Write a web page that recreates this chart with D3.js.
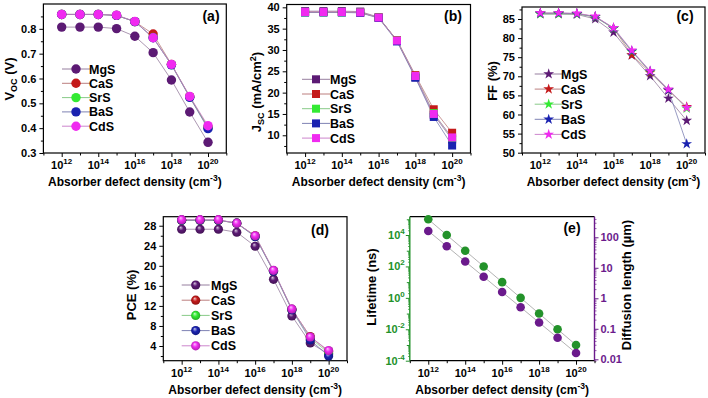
<!DOCTYPE html>
<html><head><meta charset="utf-8">
<script src="https://cdn.jsdelivr.net/npm/d3@7"></script>
<style>
body{margin:0;background:#fff}
svg{display:block;font-family:"Liberation Sans",Arial,sans-serif;font-weight:bold}
</style>
</head><body>
<svg id="chart" width="708" height="398"></svg>
<script>
// ---------------- data ----------------
const densityExponents = [12,13,14,15,16,17,18,19,20];
const materials = ["MgS","CaS","SrS","BaS","CdS"];
const materialColors = ["#5c1a74","#c41a1a","#33ea33","#1a22b0","#f02af0"];
// rows follow the materials order
const vocValues = [
  [0.807,0.807,0.807,0.801,0.770,0.704,0.594,0.465,0.343],
  [0.858,0.858,0.858,0.854,0.829,0.779,0.657,0.527,0.404],
  [0.858,0.858,0.858,0.854,0.829,0.765,0.656,0.526,0.402],
  [0.858,0.858,0.858,0.854,0.829,0.764,0.655,0.524,0.398],
  [0.858,0.858,0.858,0.855,0.830,0.764,0.657,0.528,0.410]
];
const jscValues = [
  [39.1,39.1,39.1,39.0,37.7,32.2,23.6,14.8,9.0],
  [38.9,38.9,38.9,38.8,37.6,32.3,24.1,16.1,10.6],
  [38.8,38.8,38.8,38.8,37.6,32.2,23.9,15.2,9.3],
  [38.8,38.8,38.8,38.7,37.5,32.0,23.5,14.3,7.6],
  [38.9,38.9,38.9,38.8,37.6,32.2,23.9,15.0,9.5]
];
const ffValues = [
  [86.3,86.3,86.2,85.0,81.5,75.5,70.1,64.2,58.4],
  [86.5,86.5,86.4,85.6,82.6,75.6,71.0,66.3,62.0],
  [86.3,86.3,86.3,85.5,82.5,76.5,71.2,66.5,61.6],
  [86.5,86.5,86.4,85.6,82.6,76.6,71.3,66.4,52.3],
  [86.6,86.6,86.5,85.7,82.7,76.8,71.4,66.6,61.8]
];
const pceValues = [
  [27.3,27.3,27.3,26.7,23.9,17.3,10.0,4.6,2.4],
  [29.1,29.1,29.1,28.5,26.0,19.0,11.3,5.9,2.9],
  [29.1,29.1,29.1,28.5,25.9,19.0,11.3,5.6,2.6],
  [29.1,29.1,29.1,28.5,25.8,18.9,11.2,5.2,2.0],
  [29.2,29.2,29.2,28.5,26.0,19.1,11.4,5.8,3.1]
];
const lifetimeValues = [1e5,1e4,1e3,1e2,1e1,1e0,1e-1,1e-2,1e-3];
const diffusionValues = [161,51,16,5.1,1.6,0.51,0.16,0.051,0.016];

const xLabelExponents = [12,14,16,18,20];
const vocTicks = [0.3,0.4,0.5,0.6,0.7,0.8];
const jscTicks = [10,15,20,25,30,35,40];
const ffTicks = [50,55,60,65,70,75,80,85];
const pceTicks = [4,8,12,16,20,24,28];
const lifetimeTickExponents = [-4,-2,0,2,4];
const diffusionTicks = [0.01,0.1,1,10,100];
const diffusionTickLabels = ["0.01","0.1","1","10","100"];

// ---------------- drawing ----------------
const svg = d3.select("#chart");
const defs = svg.append("defs");
materialColors.forEach((c,i)=>{
  const gr = defs.append("radialGradient").attr("id","sph"+i)
    .attr("cx","50%").attr("cy","50%").attr("r","55%").attr("fx","38%").attr("fy","30%");
  gr.append("stop").attr("offset","0%").attr("stop-color", d3.interpolateRgb(c,"#fff")(0.75));
  gr.append("stop").attr("offset","45%").attr("stop-color", c);
  gr.append("stop").attr("offset","100%").attr("stop-color", d3.color(c).darker(1));
});

function addPowerLabel(sel, base, exp, supSize){
  sel.append("tspan").text(base);
  sel.append("tspan").attr("dy",-5).attr("font-size",supSize).text(exp);
}

function xAxisFor(g, x, yBot){
  g.append("g").attr("transform",`translate(0,${yBot})`)
    .call(d3.axisBottom(x).tickValues(xLabelExponents.map(e=>10**e)).tickSize(4).tickFormat(""))
    .call(a=>a.select(".domain").remove());
  g.append("g").attr("transform",`translate(0,${yBot})`)
    .call(d3.axisBottom(x).tickValues([11,13,15,17,19,21].map(e=>10**e)).tickSize(2.5).tickFormat(""))
    .call(a=>a.select(".domain").remove());
  xLabelExponents.forEach(e=>{
    const t = g.append("text").attr("x",x(10**e)).attr("y",yBot+16)
      .attr("text-anchor","middle").attr("font-size",11);
    addPowerLabel(t,"10",String(e),8);
  });
  const xm = (x.range()[0]+x.range()[1])/2;
  const tt = g.append("text").attr("x",xm).attr("y",yBot+33).attr("text-anchor","middle").attr("font-size",12);
  tt.append("tspan").text("Absorber defect density (cm");
  tt.append("tspan").attr("dy",-5).attr("font-size",8.5).text("-3");
  tt.append("tspan").attr("dy",5).text(")");
}

function materialPanel(cfg){
  const g = svg.append("g");
  const x = d3.scaleLog().domain([1e11,1e21]).range([cfg.x0,cfg.x1]);
  const y = d3.scaleLinear().domain(cfg.yDomain).range([cfg.yBot,cfg.yTop]);
  g.append("g").attr("transform",`translate(${cfg.x0},0)`)
    .call(d3.axisLeft(y).tickValues(cfg.yTicks).tickSize(4).tickPadding(3).tickFormat(cfg.fmt))
    .call(a=>a.select(".domain").remove())
    .call(a=>a.selectAll("text").attr("font-size",11).attr("font-family",null).attr("fill","#000"));
  g.append("g").attr("transform",`translate(${cfg.x0},0)`)
    .call(d3.axisLeft(y).tickValues(cfg.yMinor).tickSize(2.5).tickFormat(""))
    .call(a=>a.select(".domain").remove());
  xAxisFor(g,x,cfg.yBot);
  g.append("rect").attr("x",cfg.x0).attr("y",cfg.yTop).attr("width",cfg.x1-cfg.x0).attr("height",cfg.yBot-cfg.yTop)
    .attr("fill","none").attr("stroke","#000").attr("stroke-width",1.2);
  const yt = g.append("text").attr("transform",`translate(${cfg.titleX},${cfg.titleY}) rotate(-90)`)
    .attr("text-anchor","middle").attr("font-size",13);
  cfg.title(yt);
  g.append("text").attr("x",cfg.letterX).attr("y",cfg.letterY).attr("text-anchor","middle")
    .attr("font-size",14).text(cfg.letter);
  const line = d3.line().x((d,i)=>x(10**densityExponents[i])).y(d=>y(d));
  cfg.values.forEach((vals,k)=>{
    g.append("path").attr("d",line(vals)).attr("fill","none")
      .attr("stroke",d3.interpolateRgb(materialColors[k],"#aaa")(0.6)).attr("stroke-opacity",0.8).attr("stroke-width",0.9);
  });
  cfg.values.forEach((vals,k)=>{
    vals.forEach((v,i)=>{
      cfg.marker(g, x(10**densityExponents[i]), y(v), k);
    });
  });
  materials.forEach((m,k)=>{
    const ly = cfg.legY + k*cfg.legStep;
    g.append("line").attr("x1",cfg.legX-14).attr("x2",cfg.legX+14).attr("y1",ly).attr("y2",ly)
      .attr("stroke",d3.interpolateRgb(materialColors[k],"#aaa")(0.6)).attr("stroke-width",0.9);
    cfg.marker(g, cfg.legX, ly, k);
    g.append("text").attr("x",cfg.legTextX).attr("y",ly+4.5).attr("font-size",12.5).text(m);
  });
}

const circleMarker = (g,cx,cy,k)=>g.append("circle").attr("cx",cx).attr("cy",cy).attr("r",4.7).attr("fill",materialColors[k]);
const squareMarker = (g,cx,cy,k)=>g.append("rect").attr("x",cx-4).attr("y",cy-4).attr("width",8).attr("height",8).attr("fill",materialColors[k]);
const starMarker = (g,cx,cy,k)=>g.append("path").attr("d",d3.symbol(d3.symbolStar,36)()).attr("transform",`translate(${cx},${cy})`).attr("fill",materialColors[k]);
const sphereMarker = (g,cx,cy,k)=>g.append("circle").attr("cx",cx).attr("cy",cy).attr("r",4.6).attr("fill",`url(#sph${k})`);

materialPanel({
  x0:43.4,x1:226.3,yTop:4,yBot:153,yDomain:[0.3,0.9],yTicks:vocTicks,
  yMinor:[0.35,0.45,0.55,0.65,0.75,0.85],fmt:d3.format(".1f"),values:vocValues,marker:circleMarker,
  titleX:14,titleY:79,
  title:t=>{t.append("tspan").text("V");t.append("tspan").attr("dy",3).attr("font-size",9).text("OC");t.append("tspan").attr("dy",-3).text(" (V)");},
  letter:"(a)",letterX:211,letterY:21,legX:76,legY:69,legStep:14.3,legTextX:89
});
materialPanel({
  x0:286.7,x1:470.5,yTop:4.5,yBot:153,yDomain:[5.85,40.66],yTicks:jscTicks,
  yMinor:[7.5,12.5,17.5,22.5,27.5,32.5,37.5],fmt:d3.format("d"),values:jscValues,marker:squareMarker,
  titleX:261,titleY:92,
  title:t=>{t.append("tspan").text("J");t.append("tspan").attr("dy",3).attr("font-size",9).text("SC");
    t.append("tspan").attr("dy",-3).text(" (mA/cm");t.append("tspan").attr("dy",-5).attr("font-size",9).text("2");t.append("tspan").attr("dy",5).text(")");},
  letter:"(b)",letterX:453,letterY:21,legX:316,legY:79.3,legStep:14.7,legTextX:330
});
materialPanel({
  x0:522,x1:705,yTop:7,yBot:153,yDomain:[49.92,88.14],yTicks:ffTicks,
  yMinor:[52.5,57.5,62.5,67.5,72.5,77.5,82.5,87.5],fmt:d3.format("d"),values:ffValues,marker:starMarker,
  titleX:497,titleY:81,title:t=>t.text("FF (%)"),
  letter:"(c)",letterX:685,letterY:21,legX:548.7,legY:74,legStep:15.1,legTextX:561
});
materialPanel({
  x0:163.3,x1:347,yTop:216.7,yBot:360.7,yDomain:[1.07,29.8],yTicks:pceTicks,
  yMinor:[2,6,10,14,18,22,26],fmt:d3.format("d"),values:pceValues,marker:sphereMarker,
  titleX:136,titleY:295,title:t=>t.text("PCE (%)"),
  letter:"(d)",letterX:320,letterY:235,legX:195.7,legY:285,legStep:15.2,legTextX:211
});

// ---------------- panel (e) ----------------
(function(){
  const green = "#23922a", purple = "#6b1a8c";
  const x0=409.8,x1=594.5,yTop=216.7,yBot=360.7;
  const g = svg.append("g");
  const x = d3.scaleLog().domain([1e11,1e21]).range([x0,x1]);
  const yL = d3.scaleLog().domain([1e-4,10**5.165]).range([yBot,yTop]);
  const yR = d3.scaleLog().domain([10**-2.046,10**2.675]).range([yBot,yTop]);
  const minorL = [];
  for(let e=-4;e<=5;e++) for(let m=2;m<=9;m++){const v=m*10**e; if(v<=10**5.165) minorL.push(v);}
  const minorR = [];
  for(let e=-3;e<=2;e++) for(let m=2;m<=9;m++){const v=m*10**e; if(v>=10**-2.046 && v<=10**2.675) minorR.push(v);}
  g.append("g").attr("transform",`translate(${x0},0)`)
    .call(d3.axisLeft(yL).tickValues(lifetimeTickExponents.map(e=>10**e)).tickSize(4).tickFormat(""))
    .call(a=>a.select(".domain").remove()).call(a=>a.selectAll("line").attr("stroke",green));
  g.append("g").attr("transform",`translate(${x0},0)`)
    .call(d3.axisLeft(yL).tickValues([-3,-1,1,3,5].map(e=>10**e)).tickSize(3).tickFormat(""))
    .call(a=>a.select(".domain").remove()).call(a=>a.selectAll("line").attr("stroke",green));
  g.append("g").attr("transform",`translate(${x0},0)`)
    .call(d3.axisLeft(yL).tickValues(minorL).tickSize(1.8).tickFormat(""))
    .call(a=>a.select(".domain").remove()).call(a=>a.selectAll("line").attr("stroke",green).attr("stroke-width",0.7));
  lifetimeTickExponents.forEach(e=>{
    const t = g.append("text").attr("x",x0-5).attr("y",yL(10**e)+4).attr("text-anchor","end")
      .attr("font-size",11).attr("fill",green);
    addPowerLabel(t,"10",String(e),8);
  });
  g.append("g").attr("transform",`translate(${x1},0)`)
    .call(d3.axisRight(yR).tickValues(diffusionTicks).tickSize(4).tickFormat(""))
    .call(a=>a.select(".domain").remove()).call(a=>a.selectAll("line").attr("stroke",purple));
  g.append("g").attr("transform",`translate(${x1},0)`)
    .call(d3.axisRight(yR).tickValues(minorR).tickSize(2).tickFormat(""))
    .call(a=>a.select(".domain").remove()).call(a=>a.selectAll("line").attr("stroke",purple).attr("stroke-width",0.7));
  diffusionTicks.forEach((v,i)=>{
    g.append("text").attr("x",x1+6).attr("y",yR(v)+4).attr("font-size",11).attr("fill",purple).text(diffusionTickLabels[i]);
  });
  xAxisFor(g,x,yBot);
  g.append("line").attr("x1",x0).attr("x2",x1).attr("y1",yTop).attr("y2",yTop).attr("stroke","#000").attr("stroke-width",1.2);
  g.append("line").attr("x1",x0).attr("x2",x1).attr("y1",yBot).attr("y2",yBot).attr("stroke","#000").attr("stroke-width",1.2);
  g.append("line").attr("x1",x0).attr("x2",x0).attr("y1",yTop).attr("y2",yBot).attr("stroke",green).attr("stroke-width",1.4);
  g.append("line").attr("x1",x1).attr("x2",x1).attr("y1",yTop).attr("y2",yBot).attr("stroke",purple).attr("stroke-width",1.4);
  g.append("text").attr("transform",`translate(376,287) rotate(-90)`).attr("text-anchor","middle")
    .attr("font-size",13).attr("fill","#000").text("Lifetime (ns)");
  g.append("text").attr("transform",`translate(631,285) rotate(-90)`).attr("text-anchor","middle")
    .attr("font-size",13).attr("fill","#000").text("Diffusion length (µm)");
  g.append("text").attr("x",572).attr("y",233).attr("text-anchor","middle").attr("font-size",14).text("(e)");
  const lineL = d3.line().x((d,i)=>x(10**densityExponents[i])).y(d=>yL(d));
  const lineR = d3.line().x((d,i)=>x(10**densityExponents[i])).y(d=>yR(d));
  g.append("path").attr("d",lineL(lifetimeValues)).attr("fill","none").attr("stroke","#aaa").attr("stroke-width",0.9);
  g.append("path").attr("d",lineR(diffusionValues)).attr("fill","none").attr("stroke","#aaa").attr("stroke-width",0.9);
  lifetimeValues.forEach((v,i)=>g.append("circle").attr("cx",x(10**densityExponents[i])).attr("cy",yL(v)).attr("r",4.3).attr("fill",green));
  diffusionValues.forEach((v,i)=>g.append("circle").attr("cx",x(10**densityExponents[i])).attr("cy",yR(v)).attr("r",4.3).attr("fill",purple));
})();
</script>
</body></html>
